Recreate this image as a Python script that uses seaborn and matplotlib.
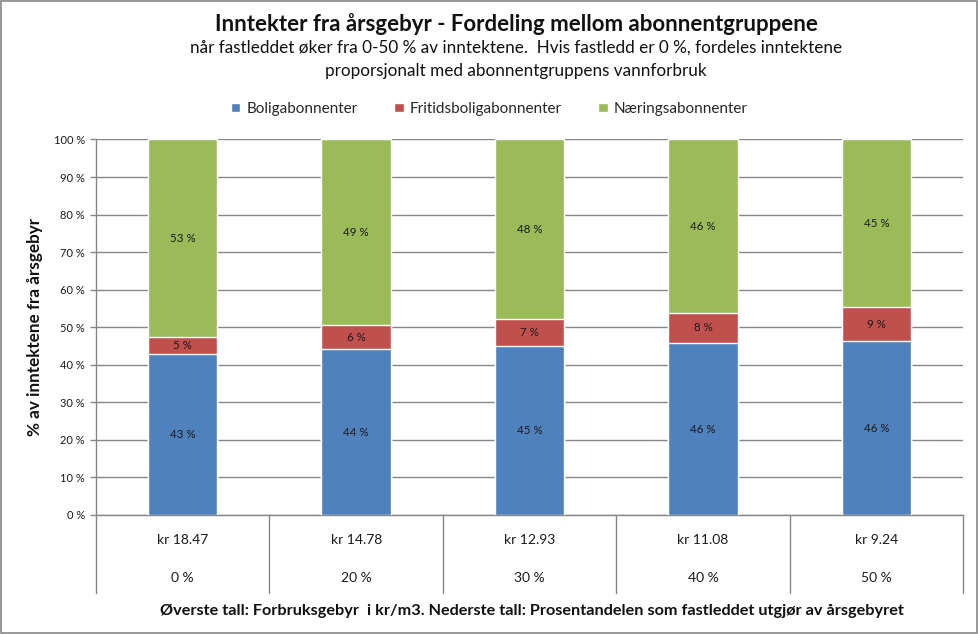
import pandas as pd
import matplotlib
matplotlib.use("Agg")
import matplotlib.pyplot as plt
from matplotlib.patches import Rectangle, Patch
import seaborn as sns

# Data lest av fra figuren (andel av inntekter, %)
priser = ["kr 18.47", "kr 14.78", "kr 12.93", "kr 11.08", "kr 9.24"]
fastledd = ["0 %", "20 %", "30 %", "40 %", "50 %"]
bolig = [42.8, 44.2, 45.1, 45.8, 46.3]
fritid = [4.6, 6.4, 7.1, 8.0, 9.1]
naering = [52.6, 49.4, 47.8, 46.2, 44.6]

serier = ["Boligabonnenter", "Fritidsboligabonnenter", "Næringsabonnenter"]
farger = ["#4F81BD", "#C0504D", "#9BBB59"]

df = pd.DataFrame({"kat": fastledd, "bolig": bolig, "fritid": fritid, "naering": naering})
df["topp_fritid"] = df["bolig"] + df["fritid"]
df["topp_naering"] = df["topp_fritid"] + df["naering"]

sns.set_style("white")
plt.rcParams["font.family"] = ["Lato", "DejaVu Sans"]
grid_col = "#868686"

fig = plt.figure(figsize=(9.79, 6.34), dpi=100)
ax = fig.add_axes([0.0981, 0.1877, 0.8856, 0.5923])

# stablede søyler: tegn kumulative summer oppå hverandre
sns.barplot(data=df, x="kat", y="topp_naering", color=farger[2], width=0.4,
            saturation=1, ax=ax, zorder=3)
sns.barplot(data=df, x="kat", y="topp_fritid", color=farger[1], width=0.4,
            saturation=1, ax=ax, zorder=3)
sns.barplot(data=df, x="kat", y="bolig", color=farger[0], width=0.4,
            saturation=1, ax=ax, zorder=3)

# verdietiketter
for i, row in df.iterrows():
    for lo, hi, v in [(0, row["bolig"], row["bolig"]),
                      (row["bolig"], row["topp_fritid"], row["fritid"]),
                      (row["topp_fritid"], row["topp_naering"], row["naering"])]:
        ax.text(i, (lo + hi) / 2, f"{round(v):.0f} %", ha="center", va="center",
                fontsize=8.3, color="#1a1a1a", zorder=4)

ax.set_ylim(0, 100)
ax.set_xlim(-0.5, len(df) - 0.5)
ax.set_yticks(range(0, 101, 10))
ax.set_yticklabels([f"{t} %" for t in range(0, 101, 10)], fontsize=8, color="#1a1a1a")
ax.yaxis.grid(True, color=grid_col, linewidth=1, zorder=0)
ax.set_axisbelow(True)
ax.tick_params(axis="y", length=4, width=1, color=grid_col, pad=4, left=True)
ax.tick_params(axis="x", length=0, labelbottom=False)
ax.set_xlabel("")
ax.set_ylabel("% av inntektene fra årsgebyr", fontsize=12.3, fontweight="bold",
              color="#111111", labelpad=8)
for s in ["top", "right"]:
    ax.spines[s].set_visible(False)
for s in ["left", "bottom"]:
    ax.spines[s].set_color(grid_col)
    ax.spines[s].set_linewidth(1)

# to-nivå kategoriakse
trans = ax.get_xaxis_transform()
for k in range(len(df) + 1):
    ax.plot([k - 0.5, k - 0.5], [0, -0.207], transform=trans, color=grid_col,
            linewidth=1, clip_on=False)
for i in range(len(df)):
    ax.text(i, -0.066, priser[i], transform=trans, ha="center", va="center",
            fontsize=10, color="#1a1a1a")
    ax.text(i, -0.169, fastledd[i], transform=trans, ha="center", va="center",
            fontsize=10, color="#1a1a1a")

fig.text(0.543, 1 - 611 / 634,
         "Øverste tall: Forbruksgebyr  i kr/m3. Nederste tall: Prosentandelen som fastleddet utgjør av årsgebyret",
         ha="center", va="center", fontsize=11.7, fontweight="bold", color="#111111")

# tittel
tx = 516 / 979
fig.text(tx, 1 - 24 / 634, "Inntekter fra årsgebyr - Fordeling mellom abonnentgruppene",
         ha="center", va="center", fontsize=16, fontweight="bold", color="#111111")
fig.text(tx, 1 - 48 / 634,
         "når fastleddet øker fra 0-50 % av inntektene.  Hvis fastledd er 0 %, fordeles inntektene",
         ha="center", va="center", fontsize=12.3, color="#111111")
fig.text(tx, 1 - 71 / 634, "proporsjonalt med abonnentgruppens vannforbruk",
         ha="center", va="center", fontsize=12.3, color="#111111")

handles = [Patch(facecolor=c, label=s) for c, s in zip(farger, serier)]
fig.legend(handles=handles, loc="center", bbox_to_anchor=(0.5, 1 - 109 / 634), ncol=3,
           frameon=False, fontsize=11, handlelength=0.6, handleheight=0.6,
           handletextpad=0.4, columnspacing=2.4)

# ramme rundt hele figuren
fig.add_artist(Rectangle((0.001, 0.002), 0.997, 0.996, transform=fig.transFigure,
                         fill=False, edgecolor=grid_col, linewidth=1.2))

fig.savefig("out.png", dpi=100)
